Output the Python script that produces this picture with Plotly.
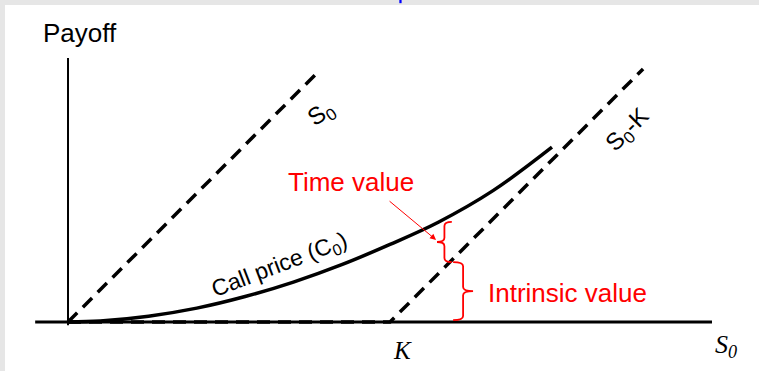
import plotly.graph_objects as go

###############################################################################
# Data (strike K = 100)
###############################################################################
K = 100
stockGrid = [0, 76.7]
stockMinusK = [0, 100, 178.6]
payoffMinusK = [0, 0, 78.6]
callS = [0, 10, 25, 40, 55, 70, 85, 100, 115, 132, 150.3]
callC = [0, 0.3, 1.8, 4.3, 7.9, 12.4, 17.8, 24.1, 31.0, 40.8, 54.3]
axisX = [-10.2, 200]
axisY = [-1, 82]
# braces: (S0 position, lower payoff, upper payoff)
timeBrace = (119.2, 18.6, 31.1)
intrBrace = (119.6, 0.6, 18.6)

# Inputs ----------------------------------------------------------------------
xRange = (-19.57, 214.6)
yRange = (-15.22, 98.45)
sans = 'Liberation Sans'
serif = 'Liberation Serif'
red = '#ff0000'
dash = '13px,8px'


def bracePath(x0, y1, y2, w, d, r=1.3):
    mid = (y1 + y2) / 2
    xs = x0 + d * w / 2
    xt = x0 + d * w
    return (
        f'M {x0},{y1} Q {xs},{y1} {xs},{y1 + r} L {xs},{mid - r} '
        f'Q {xs},{mid} {xt},{mid} Q {xs},{mid} {xs},{mid + r} '
        f'L {xs},{y2 - r} Q {xs},{y2} {x0},{y2}'
    )


###############################################################################
# Plot
###############################################################################
fig = go.Figure()
# Axes ------------------------------------------------------------------------
fig.add_trace(go.Scatter(
    x=axisX, y=[0, 0], mode='lines',
    line=dict(color='black', width=3)
))
fig.add_trace(go.Scatter(
    x=[0, 0], y=axisY, mode='lines',
    line=dict(color='black', width=2)
))
# Payoff lines ----------------------------------------------------------------
fig.add_trace(go.Scatter(
    x=stockGrid, y=stockGrid, mode='lines',
    line=dict(color='black', width=3.5, dash=dash)
))
fig.add_trace(go.Scatter(
    x=stockMinusK, y=payoffMinusK, mode='lines',
    line=dict(color='black', width=3.5, dash=dash)
))
fig.add_trace(go.Scatter(
    x=callS, y=callC, mode='lines', line_shape='spline',
    line=dict(color='black', width=3.5)
))
# Braces ----------------------------------------------------------------------
fig.add_shape(
    type='path', xref='x', yref='y',
    path=bracePath(timeBrace[0], timeBrace[1], timeBrace[2], 4.6, -1),
    line=dict(color=red, width=1.8)
)
fig.add_shape(
    type='path', xref='x', yref='y',
    path=bracePath(intrBrace[0], intrBrace[1], intrBrace[2], 6.2, 1),
    line=dict(color=red, width=1.8)
)
# blue mark at top edge
fig.add_shape(
    type='rect', xref='paper', yref='paper',
    x0=0.523, x1=0.526, y0=1.005, y1=1.0137,
    line_width=0, fillcolor='#0000ff'
)
# Labels ----------------------------------------------------------------------
labels = [
    (3.6, 89.8, 'Payoff', sans, 26, 'black', 0),
    (78.6, 64.3, 'S<sub>0</sub>', sans, 24, 'black', -35),
    (173.9, 59.6, 'S<sub>0</sub>-K', sans, 24, 'black', -45),
    (65.8, 17.6, 'Call price (C<sub>0</sub>)', sans, 23, 'black', -21),
    (87.9, 43.5, 'Time value', sans, 26, red, 0),
    (155, 9, 'Intrinsic value', sans, 26, red, 0),
    (104, -8.7, '<i>K</i>', serif, 25, 'black', 0),
    (204.3, -7.5, '<i>S<sub>0</sub></i>', serif, 26, 'black', 0),
]
for (lx, ly, txt, fam, sz, clr, ang) in labels:
    fig.add_annotation(
        x=lx, y=ly, text=txt, showarrow=False, textangle=ang,
        font=dict(family=fam, size=sz, color=clr),
        xanchor='center', yanchor='middle'
    )
fig.add_annotation(
    x=114.3, y=25.5, ax=99.4, ay=37.9, axref='x', ayref='y',
    text='', showarrow=True, arrowhead=2, arrowsize=1.2,
    arrowwidth=1, arrowcolor=red
)
# Layout ----------------------------------------------------------------------
fig.update_layout(
    width=759, height=371,
    margin=dict(l=5, r=0, t=5, b=0),
    paper_bgcolor='#e6e6e6', plot_bgcolor='white',
    showlegend=False
)
fig.update_xaxes(range=xRange, visible=False)
fig.update_yaxes(range=yRange, visible=False)
fig.write_html(
    'out.html',
    config={'displayModeBar': False},
    post_script="document.body.style.margin='0';"
                "document.body.style.overflow='hidden';"
)
